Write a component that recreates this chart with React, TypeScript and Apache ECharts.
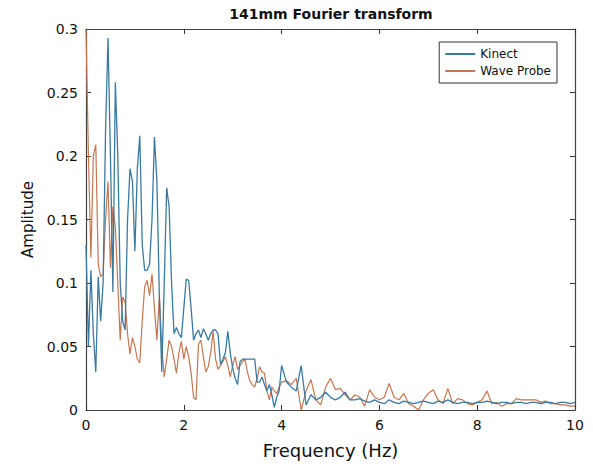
import React, { useEffect, useRef } from "react";
import * as echarts from "echarts";

const title = "141mm Fourier transform";
const xName = "Frequency (Hz)";
const yName = "Amplitude";
const seriesNames = ["Kinect", "Wave Probe"];

// frequency grid: 0.05 Hz steps to 4 Hz, then 0.1 Hz steps to 10 Hz
const freqs: number[] = [];
for (let i = 0; i <= 80; i++) freqs.push(+(i * 0.05).toFixed(2));
for (let i = 1; i <= 60; i++) freqs.push(+(4 + i * 0.1).toFixed(2));

const kinect = [
  0.13, 0.05, 0.11, 0.06, 0.03, 0.105, 0.07, 0.1, 0.22, 0.293,
  0.2, 0.093, 0.258, 0.2, 0.1, 0.07, 0.063, 0.15, 0.19, 0.18,
  0.125, 0.19, 0.216, 0.13, 0.11, 0.11, 0.115, 0.15, 0.215, 0.18,
  0.09, 0.03, 0.1, 0.175, 0.16, 0.1, 0.06, 0.065, 0.06, 0.057,
  0.08, 0.103, 0.102, 0.08, 0.055, 0.06, 0.063, 0.057, 0.064, 0.06,
  0.055, 0.06, 0.063, 0.063, 0.06, 0.036, 0.04, 0.045, 0.062, 0.045,
  0.033, 0.025, 0.02, 0.038, 0.04, 0.04, 0.04, 0.04, 0.04, 0.04,
  0.022, 0.022, 0.026, 0.02, 0.015, 0.02, 0.012, 0.002, 0.01, 0.015,
  0.035,
  0.022, 0.018, 0.015, 0.035, 0.004, 0.012, 0.008, 0.01, 0.014,
  0.01, 0.008, 0.01, 0.014, 0.008, 0.008, 0.009, 0.007, 0.006, 0.008,
  0.006, 0.005, 0.008, 0.006, 0.005, 0.007, 0.006, 0.005, 0.006, 0.007,
  0.006, 0.005, 0.007, 0.006, 0.008, 0.006, 0.005, 0.006, 0.006, 0.005,
  0.006, 0.006, 0.007, 0.006, 0.005, 0.006, 0.006, 0.005, 0.006, 0.006,
  0.005, 0.006, 0.006, 0.005, 0.006, 0.006, 0.005, 0.006, 0.006, 0.005,
  0.006,
];

const waveProbe = [
  0.3, 0.2, 0.12, 0.2, 0.209, 0.115, 0.105, 0.107, 0.15, 0.18,
  0.112, 0.16, 0.144, 0.1, 0.055, 0.089, 0.085, 0.06, 0.044, 0.057,
  0.05, 0.04, 0.037, 0.07, 0.097, 0.102, 0.09, 0.107, 0.08, 0.055,
  0.09, 0.05, 0.026, 0.04, 0.055, 0.05, 0.04, 0.029, 0.045, 0.054,
  0.04, 0.05, 0.042, 0.029, 0.01, 0.008, 0.052, 0.055, 0.042, 0.03,
  0.034, 0.045, 0.062, 0.04, 0.032, 0.035, 0.038, 0.042, 0.035, 0.026,
  0.035, 0.042, 0.032, 0.035, 0.038, 0.04, 0.03, 0.023, 0.02, 0.018,
  0.025, 0.034, 0.03, 0.029, 0.015, 0.008, 0.018, 0.015, 0.013, 0.018,
  0.022,
  0.023, 0.02, 0.025, 0.0, 0.015, 0.024, 0.008, 0.004, 0.018,
  0.025, 0.016, 0.017, 0.012, 0.008, 0.012, 0.01, 0.003, 0.016, 0.01,
  0.008, 0.01, 0.021, 0.01, 0.008, 0.013, 0.005, 0.003, 0.0, 0.008,
  0.013, 0.016, 0.008, 0.005, 0.017, 0.005, 0.009, 0.008, 0.005, 0.004,
  0.006, 0.008, 0.015, 0.005, 0.006, 0.003, 0.005, 0.005, 0.009, 0.008,
  0.008, 0.008, 0.008, 0.006, 0.007, 0.005, 0.005, 0.004, 0.004, 0.003,
  0.003,
];

const colors = ["#3a7aa1", "#c47750"];
const FONT = "DejaVu Sans, Liberation Sans, Arial, sans-serif";

export default function App() {
  const ref = useRef<HTMLDivElement>(null);
  useEffect(() => {
    if (!ref.current) return;
    const chart = echarts.init(ref.current, undefined, { renderer: "svg" });
    const toPairs = (vals: number[]) => freqs.map((f, i) => [f, vals[i]]);
    const axisCommon = {
      axisLine: { show: true, onZero: false, lineStyle: { color: "#444", width: 1.2 } },
      axisTick: { show: true, inside: true, length: 5, lineStyle: { color: "#333" } },
      splitLine: { show: false },
    };
    chart.setOption({
      animation: false,
      backgroundColor: "#fff",
      textStyle: { fontFamily: FONT },
      graphic: [
        {
          type: "text",
          x: 331,
          y: 14,
          style: {
            text: title,
            textAlign: "center",
            textVerticalAlign: "middle",
            fontSize: 14,
            fontWeight: "bold",
            fontFamily: FONT,
            fill: "#111",
          },
        },
      ],
      legend: {
        orient: "vertical",
        right: 36,
        top: 42,
        padding: [6, 6, 6, 6],
        itemGap: 5,
        itemWidth: 30,
        itemHeight: 2,
        icon: "rect",
        borderColor: "#333",
        borderWidth: 1,
        borderRadius: 0,
        backgroundColor: "#fff",
        textStyle: { fontSize: 12, color: "#111", fontFamily: FONT },
        data: seriesNames,
      },
      grid: { left: 86, right: 18, top: 29, bottom: 56, show: false },
      xAxis: [
        {
          type: "value",
          min: 0,
          max: 10,
          interval: 2,
          name: xName,
          nameLocation: "middle",
          nameGap: 31,
          nameTextStyle: { fontSize: 18, color: "#111", fontFamily: FONT },
          axisLabel: { fontSize: 14, color: "#111", margin: 8, fontFamily: FONT },
          ...axisCommon,
        },
        {
          type: "value",
          position: "top",
          min: 0,
          max: 10,
          interval: 2,
          axisLabel: { show: false },
          ...axisCommon,
        },
      ],
      yAxis: [
        {
          type: "value",
          min: 0,
          max: 0.3,
          interval: 0.05,
          name: yName,
          nameLocation: "middle",
          nameGap: 43,
          nameTextStyle: { fontSize: 15, color: "#111", fontFamily: FONT },
          axisLabel: { fontSize: 14, color: "#111", margin: 8, fontFamily: FONT },
          ...axisCommon,
        },
        {
          type: "value",
          position: "right",
          min: 0,
          max: 0.3,
          interval: 0.05,
          axisLabel: { show: false },
          ...axisCommon,
        },
      ],
      series: [
        {
          name: seriesNames[0],
          type: "line",
          data: toPairs(kinect),
          showSymbol: false,
          symbol: "none",
          lineStyle: { color: colors[0], width: 1.3 },
          itemStyle: { color: colors[0] },
          z: 3,
        },
        {
          name: seriesNames[1],
          type: "line",
          data: toPairs(waveProbe),
          showSymbol: false,
          symbol: "none",
          lineStyle: { color: colors[1], width: 1.2 },
          itemStyle: { color: colors[1] },
          z: 2,
        },
      ],
    });
    return () => chart.dispose();
  }, []);
  return <div ref={ref} style={{ width: 593, height: 466, position: "absolute", left: 0, top: 0 }} />;
}
